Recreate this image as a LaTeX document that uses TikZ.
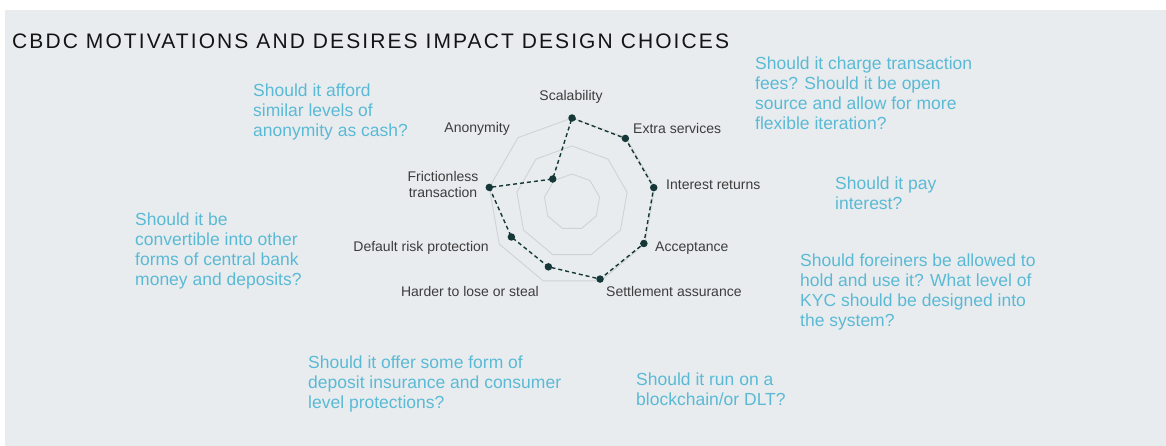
\documentclass[tikz,border=0pt]{standalone}
\usepackage{fontspec}
\setmainfont{Liberation Sans}
\newfontfamily\titlefont[LetterSpace=10]{Liberation Sans}
\usetikzlibrary{calc}
\definecolor{bggray}{RGB}{233,236,239}
\definecolor{qcyan}{RGB}{90,186,213}
\definecolor{lblgray}{RGB}{60,60,60}
\definecolor{datateal}{RGB}{22,55,55}
\definecolor{gridgray}{RGB}{208,211,214}
\tikzset{
  question/.style={anchor=north west, inner sep=0pt, align=left, text=qcyan,
    font=\fontsize{17.5}{20}\selectfont},
  axislabel/.style={inner sep=0pt, text=lblgray, font=\fontsize{14}{15}\selectfont},
  gridline/.style={draw=gridgray, line width=0.9pt},
  dataline/.style={draw=datateal, dashed, dash pattern=on 4pt off 3pt, line width=1.4pt},
  datadot/.style={circle, fill=datateal, inner sep=0pt, minimum size=7.5pt}
}
\begin{document}
\begin{tikzpicture}[x=1pt,y=-1pt]
\useasboundingbox (0,0) rectangle (1166,446);
\fill[white] (0,0) rectangle (1166,446);
\fill[bggray] (5,10) rectangle (1166,446);
\node[anchor=west, inner sep=0pt, font=\titlefont\fontsize{21}{22}\selectfont, text=black!92] (title) at (12,41) {CBDC MOTIVATIONS AND DESIRES IMPACT DESIGN CHOICES};
% radar
\coordinate (c) at (572,202);
\begin{scope}[shift={(c)}]
\foreach \r in {28,56,84}
  \draw[gridline] (90:\r pt) \foreach \a in {50,10,-30,-70,-110,-150,-190,-230}{ -- (\a:\r pt)} -- cycle;
\node[datadot] (d1) at (90:84pt) {};
\node[datadot] (d2) at (50:83pt) {};
\node[datadot] (d3) at (10:83pt) {};
\node[datadot] (d4) at (-30:83pt) {};
\node[datadot] (d5) at (-70:82pt) {};
\node[datadot] (d6) at (-110:69pt) {};
\node[datadot] (d7) at (-150:70pt) {};
\node[datadot] (d8) at (170:84pt) {};
\node[datadot] (d9) at (130:30pt) {};
\end{scope}
\draw[dataline] (d1.center) -- (d2.center) -- (d3.center) -- (d4.center) -- (d5.center) -- (d6.center) -- (d7.center) -- (d8.center) -- (d9.center) -- cycle;
% axis labels
\node[axislabel, anchor=center] (l1) at (571,97) {Scalability};
\node[axislabel, anchor=west] (l2) at (633,128) {Extra services};
\node[axislabel, anchor=west] (l3) at (666,185) {Interest returns};
\node[axislabel, anchor=west] (l4) at (655,248) {Acceptance};
\node[axislabel, anchor=west] (l5) at (606,291) {Settlement assurance};
\node[axislabel, anchor=east] (l6) at (539,291) {Harder to lose or steal};
\node[axislabel, anchor=east] (l7) at (489,248) {Default risk protection};
\node[axislabel, anchor=center, align=center, font=\fontsize{14}{15.5}\selectfont] (l8) at (443,184.5) {Frictionless\\transaction};
\node[axislabel, anchor=east] (l9) at (510,129) {Anonymity};
% questions
\node[question] (q1) at (253,84) {Should it afford\\similar levels of\\anonymity as cash?};
\node[question] (q2) at (755,57) {Should it charge transaction\\fees? Should it be open\\source and allow for more\\flexible iteration?};
\node[question] (q3) at (135,213) {Should it be\\convertible into other\\forms of central bank\\money and deposits?};
\node[question] (q4) at (835,177) {Should it pay\\interest?};
\node[question] (q5) at (800,254) {Should foreiners be allowed to\\hold and use it? What level of\\KYC should be designed into\\the system?};
\node[question] (q6) at (308,356) {Should it offer some form of\\deposit insurance and consumer\\level protections?};
\node[question] (q7) at (636,373) {Should it run on a\\blockchain/or DLT?};
\end{tikzpicture}
\end{document}
